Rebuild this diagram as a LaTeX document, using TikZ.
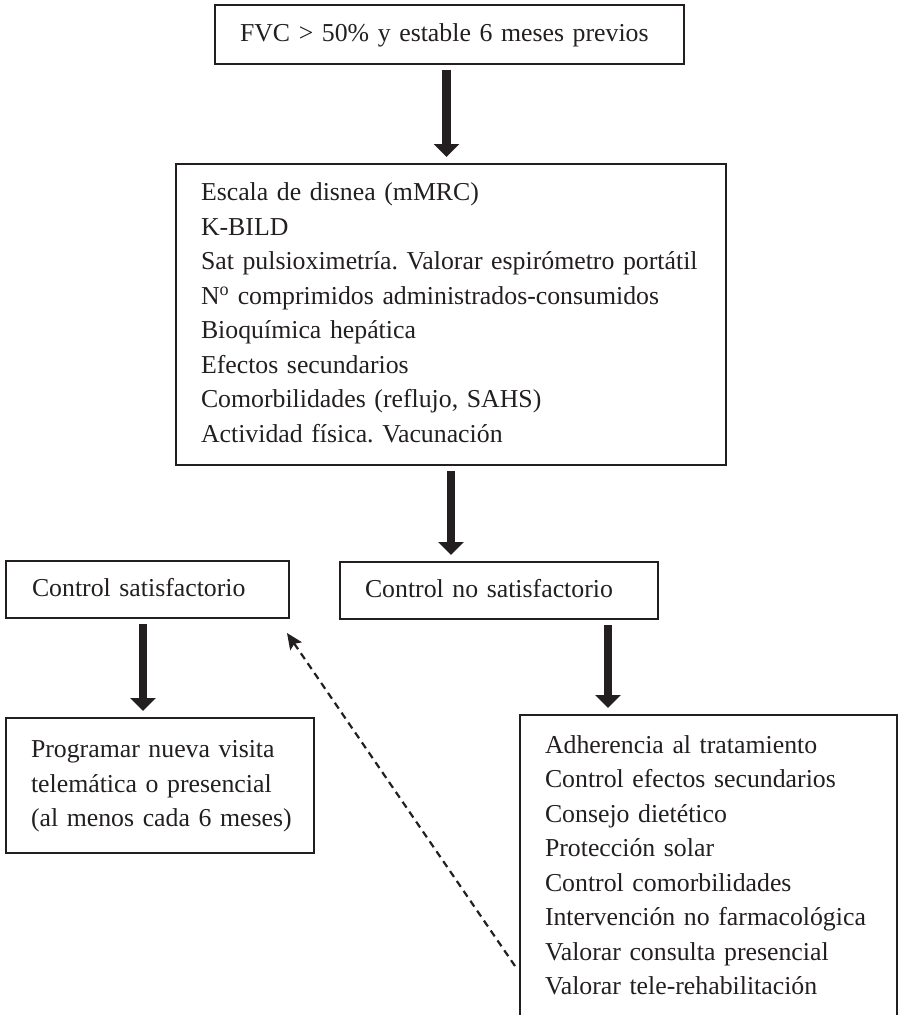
\documentclass[tikz,border=0pt]{standalone}
\usepackage{fontspec}
\setmainfont{Liberation Serif}
\usetikzlibrary{arrows.meta,calc}
\definecolor{ink}{HTML}{231F20}
\newcommand\myboxfont{\fontsize{25.8}{34.5}\selectfont\frenchspacing\setlength{\spaceskip}{5.4pt plus 1.3pt minus 0.8pt}}
\begin{document}
\begin{tikzpicture}[x=1pt,y=-1pt,
  box/.style={draw=ink, line width=2.4pt, anchor=north west, align=left,
    inner xsep=25pt, inner ysep=0pt, outer sep=0pt, text=ink,
    font=\myboxfont},
  bigarrow/.style={draw=ink, line width=8.5pt,
    -{Triangle[length=13pt,width=25pt]}, shorten <=6pt, shorten >=7pt},
  dasharrow/.style={draw=ink, line width=2.2pt, dash pattern=on 7pt off 5pt,
    -{Stealth[length=16pt,width=14pt,inset=3pt]}}]
\useasboundingbox (0,0) rectangle (900,1015);
\clip (0,0) rectangle (900,1015);

\node[box, minimum width=469pt, minimum height=59pt, text width=419pt] (top) at (215,5)
  {\strut FVC > 50\% y estable 6 meses previos};

\node[box, minimum width=550pt, minimum height=301pt, text width=500pt] (eval) at (176,164)
  {\strut Escala de disnea (mMRC)\\
   K-BILD\\
   Sat pulsioximetría. Valorar espirómetro portátil\\
   N\textsuperscript{o} comprimidos administrados-consumidos\\
   Bioquímica hepática\\
   Efectos secundarios\\
   Comorbilidades (reflujo, SAHS)\\
   Actividad física. Vacunación\strut};

\node[box, minimum width=281pt, minimum height=57pt, text width=231pt, inner xsep=26pt] (csat) at (6,561)
  {\strut Control satisfactorio};

\node[box, minimum width=318pt, minimum height=57pt, text width=268pt] (cno) at (340,562)
  {\strut Control no satisfactorio};

\node[box, minimum width=308pt, minimum height=135pt, text width=258pt] (prog) at (6,718)
  {\strut\mbox{Programar nueva visita}\\
   \mbox{telemática o presencial}\\
   \mbox{(al menos cada 6 meses)}\strut};

\node[box, minimum width=377pt, minimum height=304pt, text width=327pt] (acts) at (520,715)
  {\strut Adherencia al tratamiento\\
   Control efectos secundarios\\
   Consejo dietético\\
   Protección solar\\
   Control comorbilidades\\
   Intervención no farmacológica\\
   Valorar consulta presencial\\
   Valorar tele-rehabilitación\strut};

\draw[bigarrow] ([xshift=-3pt]top.south) -- ([xshift=-3pt]top.south |- eval.north);
\draw[bigarrow] ([xshift=0pt]eval.south) -- ([xshift=0pt]eval.south |- cno.north);
\draw[bigarrow] ([xshift=-4.5pt]csat.south) -- ([xshift=-4.5pt]csat.south |- prog.north);
\draw[bigarrow] ([xshift=109pt]cno.south) -- ([xshift=109pt]cno.south |- acts.north);

\draw[dasharrow] ($(acts.north west)+(-5,251)$) -- ($(csat.south east)+(-2,15)$);
\end{tikzpicture}
\end{document}
